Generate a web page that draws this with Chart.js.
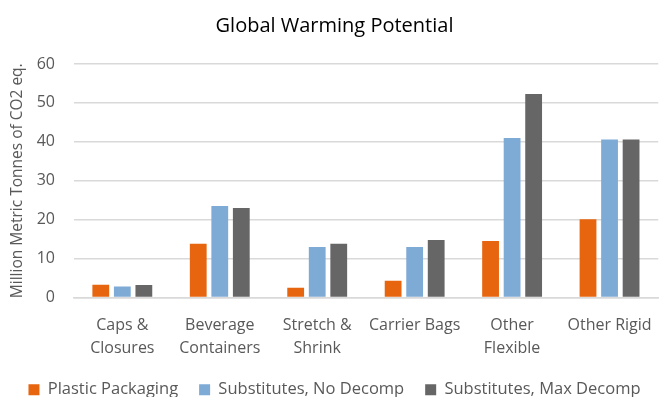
<!DOCTYPE html>
<html>
<head>
<meta charset="utf-8">
<script src="https://cdn.jsdelivr.net/npm/chart.js@4/dist/chart.umd.min.js"></script>
<style>
  html, body { margin: 0; padding: 0; background: #fff; overflow: hidden; }
  #wrap { width: 668px; height: 397px; }
</style>
</head>
<body>
<div id="wrap"><canvas id="c"></canvas></div>
<script>
const categories = [
  ["Caps &", "Closures"],
  ["Beverage", "Containers"],
  ["Stretch &", "Shrink"],
  "Carrier Bags",
  ["Other", "Flexible"],
  "Other Rigid"
];
const plasticPackaging = [3.3, 13.8, 2.5, 4.3, 14.5, 20.1];
const substitutesNoDecomp = [2.8, 23.5, 13.0, 13.0, 41.0, 40.6];
const substitutesMaxDecomp = [3.2, 23.0, 13.8, 14.8, 52.3, 40.6];
const yTicks = [0, 10, 20, 30, 40, 50, 60];

const FONT = "'Open Sans', sans-serif";
const TEXT = "#595959";

new Chart(document.getElementById("c"), {
  type: "bar",
  data: {
    labels: categories,
    datasets: [
      { label: "Plastic Packaging", data: plasticPackaging, backgroundColor: "#E8650F" },
      { label: "Substitutes, No Decomp", data: substitutesNoDecomp, backgroundColor: "#7EAAD6" },
      { label: "Substitutes, Max Decomp", data: substitutesMaxDecomp, backgroundColor: "#666666" }
    ]
  },
  options: {
    responsive: true,
    maintainAspectRatio: false,
    animation: false,
    layout: { padding: { left: 6, right: 5, top: 4, bottom: -11 } },
    datasets: { bar: { categoryPercentage: 0.663, barPercentage: 0.78 } },
    plugins: {
      title: {
        display: true,
        text: "Global Warming Potential",
        color: "#000",
        font: { family: FONT, size: 20, weight: "normal", lineHeight: 1.2 },
        padding: { top: 10, bottom: 26 }
      },
      legend: {
        position: "bottom",
        labels: {
          color: TEXT,
          font: { family: FONT, size: 16.5 },
          boxWidth: 11,
          boxHeight: 11,
          padding: 21
        }
      },
      tooltip: { enabled: false }
    },
    scales: {
      x: {
        afterFit: (axis) => { axis.height = 63; },
        grid: { display: false, drawTicks: false },
        border: { color: "#d9d9d9", width: 1.5 },
        ticks: {
          color: TEXT,
          font: { family: FONT, size: 16, lineHeight: 1.47 },
          maxRotation: 0,
          autoSkip: false,
          padding: 16
        }
      },
      y: {
        min: 0,
        max: 60,
        afterBuildTicks: (axis) => { axis.ticks = yTicks.map(v => ({ value: v })); },
        afterFit: (axis) => { axis.width = 67.6; },
        grid: { color: "#d9d9d9", lineWidth: 1.5, drawTicks: false },
        border: { display: false },
        ticks: {
          color: TEXT,
          font: { family: FONT, size: 16 },
          padding: 18.6
        },
        title: {
          display: true,
          text: "Million Metric Tonnes of CO2 eq.",
          color: TEXT,
          font: { family: FONT, size: 15.5 },
          padding: { top: 2, bottom: 0 }
        }
      }
    }
  }
});
</script>
</body>
</html>
